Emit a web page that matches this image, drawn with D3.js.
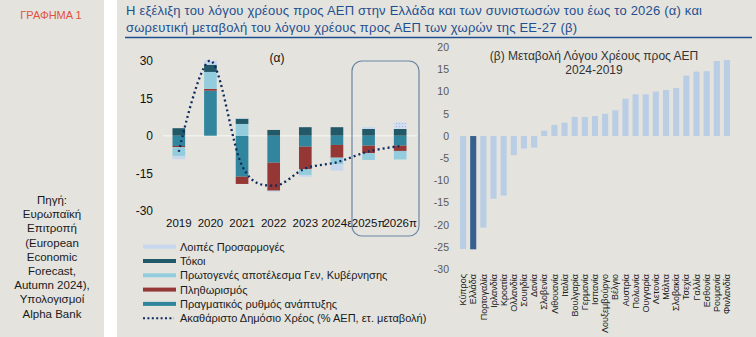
<!DOCTYPE html>
<html lang="el">
<head>
<meta charset="utf-8">
<script src="https://d3js.org/d3.v7.min.js"></script>
<style>
    body { margin: 0; background: #e4e3de; }
    svg { display: block; font-family: Arial, "Liberation Sans", sans-serif; }
</style>
</head>
<body>
<svg id="chart"></svg>
<script>
    // (α) contributions to the annual change of the debt ratio, Greece
    const years = ['2019', '2020', '2021', '2022', '2023', '2024ε', '2025π', '2026π'];
    const growth = [-4.1, 18.0, -16.4, -10.8, -4.4, -3.7, -4.0, -4.0];
    const inflation = [-0.5, 0.7, -2.9, -11.2, -9.0, -5.1, -3.0, -2.1];
    const primary = [-3.5, 6.8, 4.7, 0.0, -2.3, -2.7, -2.7, -3.4];
    const interest = [3.0, 2.9, 2.1, 2.3, 3.4, 3.4, 2.7, 2.7];
    const otherAdj = [-1.3, 1.6, 0.3, -0.4, -0.7, -2.5, 0.7, 2.7];
    const debtChange = [-6.4, 30.0, -12.0, -20.0, -13.1, -10.6, -6.3, -4.1];
    const leftTicks = [-30, -15, 0, 15, 30];

    // (β) change of debt-to-GDP 2024 vs 2019, EU-27
    const countries = ['Κύπρος', 'Ελλάδα', 'Πορτογαλία', 'Ιρλανδία', 'Κροατία', 'Ολλανδία', 'Σουηδία', 'Δανία',
        'Σλοβενία', 'Λιθουανία', 'Ιταλία', 'Βουλγαρία', 'Γερμανία', 'Ισπανία', 'Λουξεμβούργο', 'Βέλγιο',
        'Αυστρία', 'Πολωνία', 'Ουγγαρία', 'Λετονία', 'Μάλτα', 'Σλοβακία', 'Τσεχία', 'Γαλλία', 'Εσθονία',
        'Ρουμανία', 'Φινλανδία'];
    const ratioChange = [-25.4, -25.5, -20.6, -14.1, -13.4, -4.3, -2.8, -2.6,
        1.2, 2.5, 3.0, 4.3, 4.3, 4.5, 5.0, 5.8,
        8.4, 9.4, 9.4, 10.0, 10.35, 10.8, 13.6, 14.5, 14.6,
        16.9, 17.1];
    const rightTicks = [-30, -25, -20, -15, -10, -5, 0, 5, 10, 15, 20];

    const sourceLines = ['Πηγή:', 'Ευρωπαϊκή', 'Επιτροπή', '(European', 'Economic', 'Forecast,',
        'Autumn 2024),', 'Υπολογισμοί', 'Alpha Bank'];

    const series = [
        {key: 'growth', label: 'Πραγματικός ρυθμός ανάπτυξης', color: '#31859c'},
        {key: 'inflation', label: 'Πληθωρισμός', color: '#953735'},
        {key: 'primary', label: 'Πρωτογενές αποτέλεσμα Γεν, Κυβέρνησης', color: '#93cddd'},
        {key: 'interest', label: 'Τόκοι', color: '#215968'},
        {key: 'other', label: 'Λοιπές Προσαρμογές', color: '#c6d7ee'},
    ];

    const width = 756;
    const height = 337;
    const svg = d3.select('#chart').attr('width', width).attr('height', height);

    svg.append('rect').attr('width', width).attr('height', height).attr('fill', '#e4e3de');
    // white gutter between the side panel and the main panel
    svg.append('rect').attr('x', 104).attr('y', 0).attr('width', 13).attr('height', height).attr('fill', '#ffffff');

    const defs = svg.append('defs');
    const dots = defs.append('pattern').attr('id', 'dots')
        .attr('width', 3).attr('height', 3).attr('patternUnits', 'userSpaceOnUse');
    dots.append('rect').attr('width', 3).attr('height', 3).attr('fill', '#d3def0');
    dots.append('rect').attr('width', 1.2).attr('height', 1.2).attr('fill', '#a8bddd');

    // side panel
    svg.append('text').attr('x', 51).attr('y', 19).attr('text-anchor', 'middle')
        .attr('font-size', 11).attr('fill', '#e0523c').text('ΓΡΑΦΗΜΑ 1');
    svg.append('g').selectAll('text').data(sourceLines).join('text')
        .attr('x', 52).attr('y', (d, i) => 204 + i * 14.2)
        .attr('text-anchor', 'middle').attr('font-size', 11.5).attr('fill', '#1a1a1a')
        .text(d => d);

    // title
    const title = svg.append('g').attr('fill', '#1f4f8f').attr('font-size', 13);
    title.append('text').attr('x', 126).attr('y', 15)
        .attr('textLength', 576).attr('lengthAdjust', 'spacing')
        .text('Η εξέλιξη του λόγου χρέους προς ΑΕΠ στην Ελλάδα και των συνιστωσών του έως το 2026 (α) και');
    title.append('text').attr('x', 126).attr('y', 32)
        .attr('textLength', 451).attr('lengthAdjust', 'spacing')
        .text('σωρευτική  μεταβολή του λόγου χρέους προς ΑΕΠ των χωρών  της ΕΕ-27 (β)');
    svg.append('line').attr('x1', 125).attr('x2', 752).attr('y1', 37.5).attr('y2', 37.5)
        .attr('stroke', '#1f4f8f').attr('stroke-width', 1.3);

    // ---- panel (α) ----
    const rows = years.map((y, i) => ({
        year: y, growth: growth[i], inflation: inflation[i], primary: primary[i],
        interest: interest[i], other: otherAdj[i]
    }));
    const stacked = d3.stack().keys(series.map(s => s.key))
        .offset(d3.stackOffsetDiverging)(rows);

    const xL = d3.scaleBand().domain(years).range([163, 416]);
    const yL = d3.scaleLinear().domain([-30, 30]).range([210.7, 60.7]);
    const barW = xL.bandwidth() * 0.4;

    svg.append('g').selectAll('text').data(leftTicks).join('text')
        .attr('x', 153).attr('y', d => yL(d)).attr('dy', '0.36em')
        .attr('text-anchor', 'end').attr('font-size', 12).attr('fill', '#111')
        .text(d => d);

    svg.append('line').attr('x1', 163).attr('x2', 417).attr('y1', yL(0)).attr('y2', yL(0))
        .attr('stroke', '#f1f1ee').attr('stroke-width', 1.5);

    svg.append('g').selectAll('text').data(years).join('text')
        .attr('x', d => xL(d) + xL.bandwidth() / 2).attr('y', 227)
        .attr('text-anchor', 'middle').attr('font-size', 11.5).attr('fill', '#111')
        .text(d => d);

    svg.append('text').attr('x', 277).attr('y', 62).attr('text-anchor', 'middle')
        .attr('font-size', 12).attr('fill', '#111').text('(α)');

    const colorOf = Object.fromEntries(series.map(s => [s.key, s.color]));
    svg.append('g').selectAll('g').data(stacked).join('g')
        .selectAll('rect').data(s => s.map(d => ({key: s.key, d}))).join('rect')
        .attr('x', p => xL(p.d.data.year) + (xL.bandwidth() - barW) / 2)
        .attr('width', barW)
        .attr('y', p => yL(Math.max(p.d[0], p.d[1])))
        .attr('height', p => Math.abs(yL(p.d[0]) - yL(p.d[1])))
        .attr('fill', p => (p.key === 'other' && p.d.data.year === '2026π') ? 'url(#dots)' : colorOf[p.key]);

    // highlighted forecast years
    svg.append('rect').attr('x', 352).attr('y', 61).attr('width', 67).attr('height', 175)
        .attr('rx', 10).attr('fill', 'none').attr('stroke', '#6b85a4').attr('stroke-width', 1.2);

    const line = d3.line()
        .x((d, i) => xL(years[i]) + xL.bandwidth() / 2)
        .y(d => yL(d))
        .curve(d3.curveCardinal);
    svg.append('path').datum(debtChange).attr('d', line)
        .attr('fill', 'none').attr('stroke', '#0f2a5e').attr('stroke-width', 2.3)
        .attr('stroke-dasharray', '2 3');

    // legend
    const legendItems = [
        series[4], series[3], series[2], series[1], series[0],
        {key: 'debt', label: 'Ακαθάριστο Δημόσιο Χρέος (% ΑΕΠ, ετ. μεταβολή)', color: '#0f2a5e'}
    ];
    const legend = svg.append('g').selectAll('g').data(legendItems).join('g')
        .attr('transform', (d, i) => `translate(143,${246.7 + i * 14.3})`);
    legend.filter(d => d.key !== 'debt').append('rect')
        .attr('x', 0).attr('y', -2).attr('width', 33).attr('height', 4).attr('fill', d => d.color);
    legend.filter(d => d.key === 'debt').append('line')
        .attr('x1', 0).attr('x2', 31).attr('y1', 0).attr('y2', 0)
        .attr('stroke', d => d.color).attr('stroke-width', 2).attr('stroke-dasharray', '2 2.4');
    legend.append('text').attr('x', 37).attr('dy', '0.36em')
        .attr('font-size', 11).attr('fill', '#1a1a1a').text(d => d.label);

    // ---- panel (β) ----
    const xR = d3.scaleBand().domain(countries).range([458, 732]);
    const yR = d3.scaleLinear().domain([-30, 20]).range([269.3, 47.2]);
    const barR = xR.bandwidth() * 0.6;

    svg.append('g').selectAll('text').data(rightTicks).join('text')
        .attr('x', 449).attr('y', d => yR(d)).attr('dy', '0.36em')
        .attr('text-anchor', 'end').attr('font-size', 10.5).attr('fill', '#595959')
        .text(d => d);

    svg.append('g').selectAll('rect').data(countries).join('rect')
        .attr('x', d => xR(d) + (xR.bandwidth() - barR) / 2)
        .attr('width', barR)
        .attr('y', (d, i) => yR(Math.max(0, ratioChange[i])))
        .attr('height', (d, i) => Math.abs(yR(ratioChange[i]) - yR(0)))
        .attr('fill', d => d === 'Ελλάδα' ? '#38608f' : '#b9cde5');

    svg.append('g').selectAll('text').data(countries).join('text')
        .attr('transform', d => `translate(${xR(d) + xR.bandwidth() / 2},274) rotate(-90)`)
        .attr('dy', '0.35em').attr('text-anchor', 'end')
        .attr('font-size', 9).attr('fill', '#1a1a1a')
        .text(d => d);

    const titleR = svg.append('g').attr('text-anchor', 'middle').attr('font-size', 12).attr('fill', '#333');
    titleR.append('text').attr('x', 594).attr('y', 60).text('(β) Μεταβολή Λόγου Χρέους προς ΑΕΠ');
    titleR.append('text').attr('x', 594).attr('y', 74).text('2024-2019');
</script>
</body>
</html>
